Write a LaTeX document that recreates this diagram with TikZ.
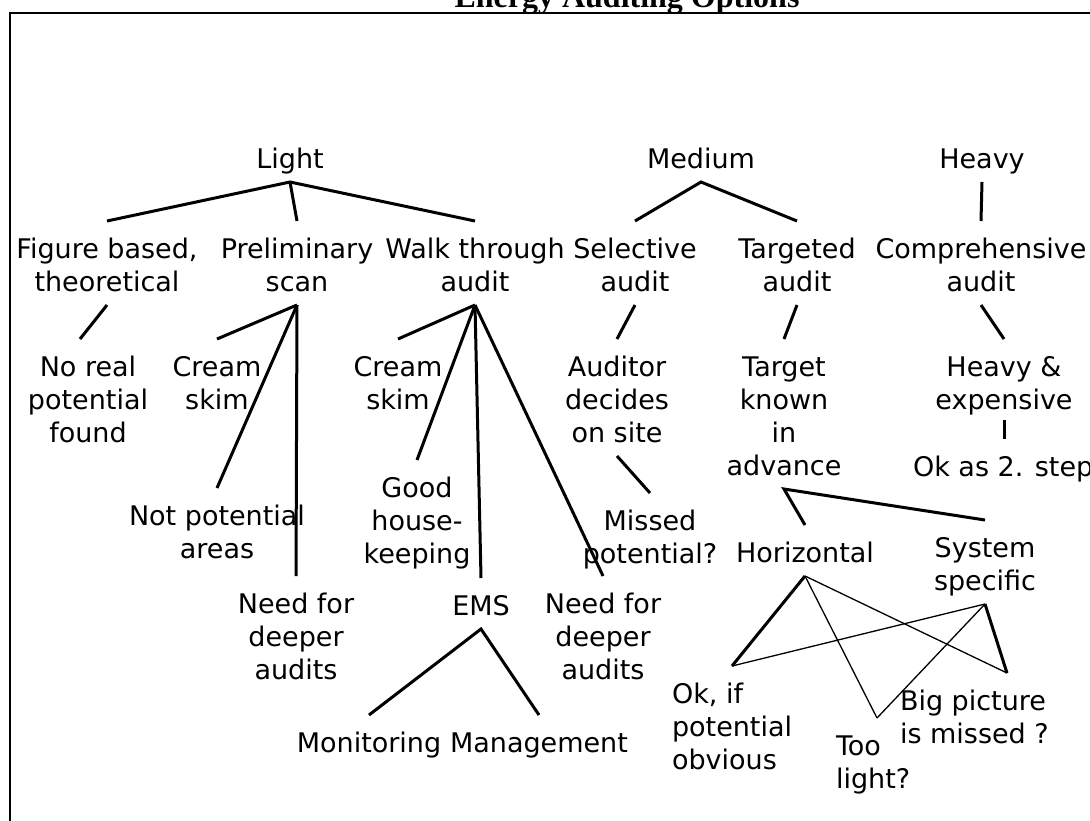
\documentclass[tikz,border=0pt]{standalone}
\usepackage{fontspec}
\setmainfont{DejaVu Sans}
\newfontfamily\titlefont{Liberation Serif}
% fixed top and bottom struts so that north/south anchors sit where the connectors end
\newcommand{\ustrut}{\rule{0pt}{37pt}}
\newcommand{\dstrut}{\rule[-14pt]{0pt}{14pt}}
\begin{document}
\begin{tikzpicture}[x=1pt,y=-1pt,
  lbl/.style={inner sep=0pt, outer sep=0pt, align=center, anchor=north,
              font=\fontsize{27}{33}\selectfont},
  lbll/.style={lbl, align=left, anchor=north west},
  link/.style={line width=3pt},
  thinlink/.style={line width=1.3pt}]
\useasboundingbox (0,0) rectangle (1090,820);
\clip (0,0) rectangle (1090,820);

% title and frame
\node[anchor=base, inner sep=0pt, font=\titlefont\bfseries\fontsize{32}{38}\selectfont]
  (title) at (627,7) {Energy Auditing Options};
\draw[line width=2pt] (10,840) -- (10,13) -- (1110,13);

% level 1
\node[lbl] (light)  at (290,131) {\ustrut Light\dstrut};
\node[lbl] (medium) at (701,131) {\ustrut Medium\dstrut};
\node[lbl] (heavy)  at (982,131) {\ustrut Heavy\dstrut};

% level 2
\node[lbl] (figure)    at (107,221) {\ustrut Figure based,\\theoretical\dstrut};
\node[lbl] (prelim)    at (297,221) {\ustrut Preliminary\\scan\dstrut};
\node[lbl] (walk)      at (475,221) {\ustrut Walk through\\audit\dstrut};
\node[lbl] (selective) at (635,221) {\ustrut Selective\\audit\dstrut};
\node[lbl] (targeted)  at (797,221) {\ustrut Targeted\\audit\dstrut};
\node[lbl] (compr)     at (981,221) {\ustrut Comprehensive\\audit\dstrut};

% level 3
\node[lbl] (noreal)   at (88,339)   {\ustrut No real\\potential\\found\dstrut};
\node[lbl] (creamA)   at (217,339)  {\ustrut Cream\\skim\dstrut};
\node[lbl] (creamB)   at (398,339)  {\ustrut Cream\\skim\dstrut};
\node[lbl] (auditor)  at (617,339)  {\ustrut Auditor\\decides\\on site\dstrut};
\node[lbl] (target)   at (784,339)  {\ustrut Target\\known\\in\\advance\dstrut};
\node[lbl] (heavyexp) at (1004,339) {\ustrut Heavy \&\\expensive\dstrut};
\node[lbll] (okstep)  at (913,439)  {\ustrut Ok as 2. step\dstrut};

% level 4
\node[lbl] (notpot)     at (217,488) {\ustrut Not potential\\areas\dstrut};
\node[lbl] (good)       at (417,460) {\ustrut Good\\house-\\keeping\dstrut};
\node[lbl] (missed)     at (650,493) {\ustrut Missed\\potential?\dstrut};
\node[lbl] (horizontal) at (805,525) {\ustrut Horizontal\dstrut};
\node[lbl] (system)     at (985,520) {\ustrut System\\specific\dstrut};

% level 5
\node[lbl] (needA)  at (296,576) {\ustrut Need for\\deeper\\audits\dstrut};
\node[lbl] (ems)    at (481,578) {\ustrut EMS\dstrut};
\node[lbl] (needB)  at (603,576) {\ustrut Need for\\deeper\\audits\dstrut};
\node[lbll] (okif)   at (672,666) {\ustrut Ok, if\\potential\\obvious\dstrut};
\node[lbll] (too)    at (836,718) {\ustrut Too\\light?\dstrut};
\node[lbll] (bigpic) at (900,673) {\ustrut Big picture\\is missed ?\dstrut};

% level 6
\node[lbl] (monitoring) at (369,715) {\ustrut Monitoring\dstrut};
\node[lbl] (management) at (539,715) {\ustrut Management\dstrut};

% connectors
\draw[link] (figure.north) -- (light.south) -- (walk.north);
\draw[link] (light.south) -- (prelim.north);
\draw[link] (selective.north) -- (medium.south) -- (targeted.north);
\draw[link] (heavy.south) -- (compr.north);

\draw[link] (figure.south) -- ([xshift=-8pt]noreal.north);
\draw[link] (prelim.south) -- (creamA.north);
\draw[link] (prelim.south) -- (notpot.north);
\draw[link] (prelim.south) -- (needA.north);
\draw[link] (walk.south) -- (creamB.north);
\draw[link] (walk.south) -- (good.north);
\draw[link] (walk.south) -- (ems.north);
\draw[link] (walk.south) -- (needB.north);
\draw[link] (selective.south) -- (auditor.north);
\draw[link] (targeted.south) -- (target.north);
\draw[link] (compr.south) -- (heavyexp.north);

\draw[link] ([yshift=3pt]heavyexp.south) -- ([xshift=91pt]okstep.north west);
\draw[link] (auditor.south) -- (missed.north);
\draw[link] (horizontal.north) -- (target.south) -- (system.north);

\draw[link] (horizontal.south) -- ([xshift=60pt]okif.north west);
\draw[thinlink] (horizontal.south) -- ([xshift=41pt]too.north west);
\draw[thinlink] (horizontal.south) -- ([xshift=107pt]bigpic.north west);
\draw[thinlink] (system.south) -- ([xshift=60pt]okif.north west);
\draw[thinlink] (system.south) -- ([xshift=41pt]too.north west);
\draw[link] (system.south) -- ([xshift=107pt]bigpic.north west);

\draw[link] (monitoring.north) -- (ems.south) -- (management.north);
\end{tikzpicture}
\end{document}
